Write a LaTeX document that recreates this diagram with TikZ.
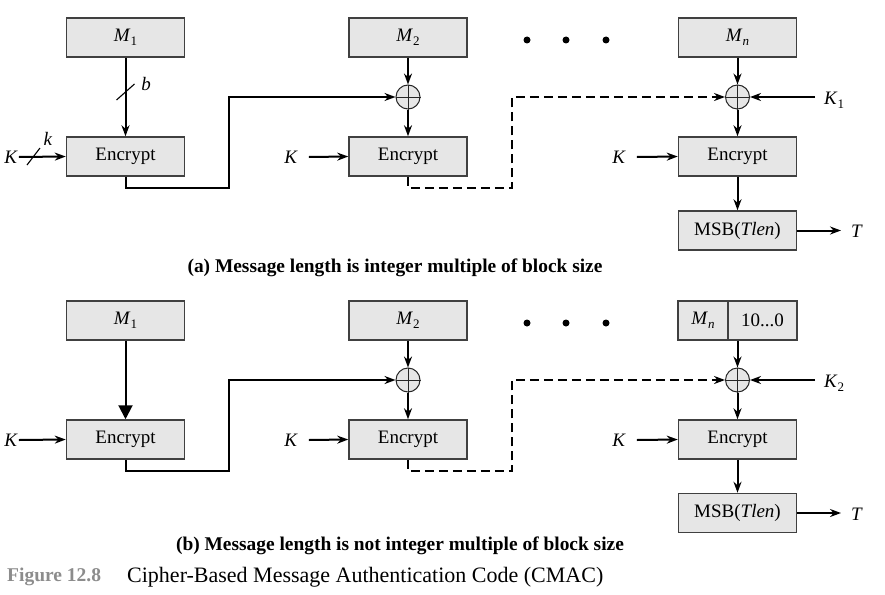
\documentclass[tikz,border=0pt]{standalone}
\usepackage{fontspec}
\setmainfont{Liberation Serif}
\usetikzlibrary{arrows.meta,calc}
\definecolor{boxfill}{RGB}{230,230,230}
\definecolor{figgray}{RGB}{140,140,140}
\newcommand\lblsub[2]{\textit{#1}\raisebox{-0.45ex}{\fontsize{13}{13}\selectfont #2}}
\begin{document}
\begin{tikzpicture}[x=1pt,y=-1pt,
  blk/.style={draw=black!75, line width=1.5pt, fill=boxfill, minimum width=118pt, minimum height=39pt, inner sep=0pt, font=\fontsize{19}{22}\selectfont},
  xorc/.style={circle, draw=black!85, line width=1pt, fill=boxfill, minimum size=24pt, inner sep=0pt},
  conn/.style={line width=2pt, -{Stealth[length=11pt,width=8pt]}},
  bigconn/.style={line width=2pt, -{Triangle[length=14pt,width=14pt]}},
  dwire/.style={line width=2pt, dash pattern=on 9pt off 5pt},
  txt/.style={font=\fontsize{19}{22}\selectfont, inner sep=1pt},
  captxt/.style={font=\fontsize{19.4}{22}\selectfont\bfseries, inner sep=0pt},
  dotc/.style={circle, fill=black, minimum size=7pt, inner sep=0pt}
]
\useasboundingbox (0,0) rectangle (885,594);

% ---------------- (a) ----------------
\node[blk] (m1a) at (125.5,37.5) {\lblsub{M}{1}};
\node[blk] (e1a) at (125.5,156.5) {Encrypt};
\node[blk] (m2a) at (408,37.5) {\lblsub{M}{2}};
\node[xorc] (x2a) at (408,97) {};
\node[blk] (e2a) at (408,156.5) {Encrypt};
\node[blk] (mna) at (737.5,37.5) {\lblsub{M}{\textit{n}}};
\node[xorc] (xna) at (737.5,97) {};
\node[blk] (ena) at (737.5,156.5) {Encrypt};
\node[blk] (msba) at (737.5,230.5) {MSB(\textit{Tlen})};
\node[dotc] (d1a) at (527,40) {};
\node[dotc] (d2a) at (566,40) {};
\node[dotc] (d3a) at (606,40) {};
\foreach \x in {x2a,xna}{
  \draw[line width=1pt,black!85] (\x.north) -- (\x.south) (\x.west) -- (\x.east);
}
\node[txt] (k1a) at (11,157) {\textit{K}};
\node[txt] (k2a) at (291,157) {\textit{K}};
\node[txt] (kna) at (619,157) {\textit{K}};
\node[txt,anchor=west] (kk1) at (823,100) {\lblsub{K}{1}};
\node[txt] (ta) at (857,231) {\textit{T}};
\node[txt] (bl) at (146,84) {\textit{b}};
\node[txt] (kl) at (48,139) {\textit{k}};
\coordinate (k1s) at (815,97);
\coordinate (tend) at (841,230.5);

\draw[conn] (m1a) -- (e1a);
\draw[line width=1.1pt] (116.5,100) -- (134.5,84);
\draw[conn] (k1a.east) -- (e1a.west);
\draw[line width=1.1pt] (27,165) -- (40,148);
\draw[conn] (e1a.south) |- (229,188) |- (x2a.west);
\draw[conn] (m2a) -- (x2a);
\draw[conn] (x2a) -- (e2a);
\draw[conn] (k2a.east) ++(10,0) -- (e2a.west);
\draw[dwire] (e2a.south) |- (512,188) |- ($(xna.west)+(-10,0)$);
\draw[conn] ($(xna.west)+(-10,0)$) -- (xna.west);
\draw[conn] (mna) -- (xna);
\draw[conn] (k1s) -- (xna.east);
\draw[conn] (xna) -- (ena);
\draw[conn] (kna.east) ++(10,0) -- (ena.west);
\draw[conn] (ena) -- (msba);
\draw[conn] (msba.east) -- (tend);

\node[captxt] (capa) at (395,268) {(a) Message length is integer multiple of block size};

% ---------------- (b) ----------------
\node[blk] (m1b) at (125.5,320.5) {\lblsub{M}{1}};
\node[blk] (e1b) at (125.5,439.5) {Encrypt};
\node[blk] (m2b) at (408,320.5) {\lblsub{M}{2}};
\node[xorc] (x2b) at (408,380) {};
\node[blk] (e2b) at (408,439.5) {Encrypt};
\node[blk, minimum width=50pt] (mnLb) at (703,320.5) {\lblsub{M}{\textit{n}}};
\node[blk, minimum width=69pt] (mnRb) at (762.5,320.5) {10...0};
\node[xorc] (xnb) at (737.5,380) {};
\node[blk] (enb) at (737.5,439.5) {Encrypt};
\node[blk] (msbb) at (737.5,513) {MSB(\textit{Tlen})};
\node[dotc] (d1b) at (527,323) {};
\node[dotc] (d2b) at (566,323) {};
\node[dotc] (d3b) at (606,323) {};
\foreach \x in {x2b,xnb}{
  \draw[line width=1pt,black!85] (\x.north) -- (\x.south) (\x.west) -- (\x.east);
}
\node[txt] (k1b) at (11,440) {\textit{K}};
\node[txt] (k2b) at (291,440) {\textit{K}};
\node[txt] (knb) at (619,440) {\textit{K}};
\node[txt,anchor=west] (kk2) at (823,383) {\lblsub{K}{2}};
\node[txt] (tb) at (857,514) {\textit{T}};
\coordinate (k2s) at (815,380);
\coordinate (tendb) at (841,513);

\draw[bigconn] (m1b) -- (e1b);
\draw[conn] (k1b.east) -- (e1b.west);
\draw[conn] (e1b.south) |- (229,471) |- (x2b.west);
\draw[conn] (m2b) -- (x2b);
\draw[conn] (x2b) -- (e2b);
\draw[conn] (k2b.east) ++(10,0) -- (e2b.west);
\draw[dwire] (e2b.south) |- (512,471) |- ($(xnb.west)+(-10,0)$);
\draw[conn] ($(xnb.west)+(-10,0)$) -- (xnb.west);
\draw[conn] (mnRb.south -| xnb.center) -- (xnb);
\draw[conn] (k2s) -- (xnb.east);
\draw[conn] (xnb) -- (enb);
\draw[conn] (knb.east) ++(10,0) -- (enb.west);
\draw[conn] (enb) -- (msbb);
\draw[conn] (msbb.east) -- (tendb);

\node[captxt] (capb) at (400,546) {(b) Message length is not integer multiple of block size};

\node[anchor=west, inner sep=0pt, font=\fontsize{19.5}{22}\selectfont\bfseries, text=figgray] (fig) at (7,577) {Figure 12.8};
\node[anchor=west, inner sep=0pt, font=\fontsize{22}{24}\selectfont] (figcap) at (127,577) {Cipher-Based Message Authentication Code (CMAC)};
\end{tikzpicture}
\end{document}
